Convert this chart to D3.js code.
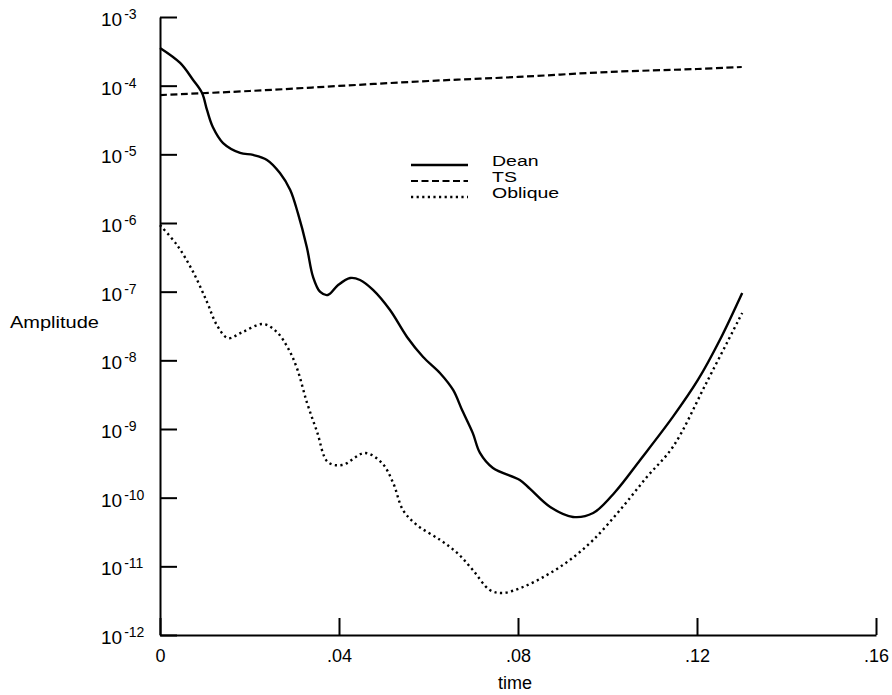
<!DOCTYPE html>
<html>
<head>
<meta charset="utf-8">
<title>amplitude</title>
<script src="https://cdn.jsdelivr.net/npm/d3@7"></script>
<style>
body{margin:0;background:#fff;}
text{font-family:"Liberation Sans",Arial,Helvetica,sans-serif;fill:#000;}
.axis path,.axis line{stroke:#000;stroke-width:2;}
.curve{fill:none;stroke:#000;}
</style>
</head>
<body>
<script>
// values
var deanT = [0,.0045,.0074,.0094,.0105,.0118,.0141,.0179,.0208,.0239,.0268,.0291,.0308,.0328,.0342,.0358,.0375,.0398,.0425,.0447,.0476,.0514,.0552,.0588,.0626,.0655,.0675,.0699,.0715,.0744,.0804,.0827,.0872,.0923,.0968,.1017,.1073,.1146,.1202,.1251,.1301];
var deanA = [3.54e-4,2.14e-4,1.21e-4,7.8e-5,4.43e-5,2.5e-5,1.46e-5,1.05e-5,9.8e-6,8.3e-6,5.35e-6,3.03e-6,1.4e-6,4.48e-7,1.64e-7,9.9e-8,8.95e-8,1.25e-7,1.58e-7,1.48e-7,1.06e-7,5.4e-8,2.19e-8,1.12e-8,6.5e-9,3.7e-9,1.89e-9,8.7e-10,4.48e-10,2.7e-10,1.81e-10,1.34e-10,7.3e-11,5.24e-11,5.98e-11,1.21e-10,3.54e-10,1.5e-9,5.18e-9,1.98e-8,9.6e-8];

var tsT = [0,.02,.04,.06,.08,.10,.12,.13];
var tsA = [7.3e-5,8.36e-5,9.9e-5,1.17e-4,1.34e-4,1.58e-4,1.75e-4,1.87e-4];

var oblT = [0,.0038,.0074,.0105,.0127,.0152,.0185,.0230,.0261,.0286,.0306,.0328,.0351,.0375,.0407,.0458,.0496,.0521,.0543,.0574,.0626,.0664,.0699,.0737,.0766,.0811,.0865,.0916,.0968,.1028,.1088,.1146,.1222,.1301];
var oblA = [9.3e-7,4.79e-7,1.94e-7,7.08e-8,3.27e-8,2.11e-8,2.59e-8,3.38e-8,2.59e-8,1.51e-8,7.7e-9,2.47e-9,9.1e-10,3.31e-10,2.99e-10,4.48e-10,3.2e-10,1.64e-10,6.6e-11,4.0e-11,2.42e-11,1.57e-11,8.85e-12,4.53e-12,4.09e-12,5.0e-12,7.5e-12,1.24e-11,2.42e-11,6.6e-11,2.0e-10,5.47e-10,4.84e-9,4.9e-8];

var xTicks = [0,.04,.08,.12,.16];
var xLabels = ["0",".04",".08",".12",".16"];
var yExps = [-3,-4,-5,-6,-7,-8,-9,-10,-11,-12];

var seriesNames = ["Dean","TS","Oblique"];

var width = 892, height = 695;
var svg = d3.select("body").append("svg")
	.attr("width",width)
	.attr("height",height);

var x = d3.scaleLinear().domain([0,.16]).range([160,876]);
var y = d3.scaleLog().domain([1e-12,1e-3]).range([635,17]);

// axes, ticks point inward
svg.append("g")
	.attr("class","axis")
	.attr("transform","translate(0,635)")
	.call(d3.axisBottom(x).tickValues(xTicks).tickSizeInner(-17).tickSizeOuter(0).tickPadding(14)
		.tickFormat(function(d,i){ return xLabels[i]; }))
	.selectAll("text").style("font-size","18px");

svg.append("g")
	.attr("class","axis")
	.attr("transform","translate(160,0)")
	.call(d3.axisLeft(y).tickValues(yExps.map(function(e){return Math.pow(10,e);}))
		.tickSizeInner(-17).tickSizeOuter(0).tickFormat(""));

svg.selectAll(".axis text").attr("font-family",null);

// y tick labels 10^n
var lab = svg.append("g").selectAll("text")
	.data(yExps)
	.enter()
	.append("text")
	.attr("x",101)
	.attr("y",function(d){ return y(Math.pow(10,d))+9; })
	.style("font-size","19px");
lab.append("tspan").text("10");
lab.append("tspan")
	.attr("dx",2)
	.attr("dy",-7)
	.style("font-size","14px")
	.text(function(d){ return "-"+(-d); });

svg.append("text")
	.attr("x",515).attr("y",689)
	.attr("text-anchor","middle")
	.style("font-size","18px")
	.text("time");

svg.append("text")
	.attr("transform","translate(10,328) scale(1.25,1)")
	.style("font-size","16px")
	.text("Amplitude");

// curves
var line = d3.line()
	.x(function(d){ return x(d[0]); })
	.y(function(d){ return y(d[1]); })
	.curve(d3.curveCatmullRom.alpha(0.5));

function pairs(t,a){ return t.map(function(v,i){ return [v,a[i]]; }); }

var styles = [
	{w:2.4,dash:null},
	{w:2.2,dash:"7,3.5"},
	{w:2.4,dash:"2.2,3.4"}
];
var data = [pairs(deanT,deanA),pairs(tsT,tsA),pairs(oblT,oblA)];

svg.selectAll("path.curve")
	.data(data)
	.enter()
	.append("path")
	.attr("class","curve")
	.attr("d",line)
	.style("stroke-width",function(d,i){ return styles[i].w; })
	.style("stroke-dasharray",function(d,i){ return styles[i].dash; });

// legend
var leg = svg.append("g").selectAll("g")
	.data(seriesNames)
	.enter()
	.append("g")
	.attr("transform",function(d,i){ return "translate(411,"+(165+i*16)+")"; });
leg.append("line")
	.attr("x1",0).attr("x2",57)
	.attr("stroke","#000")
	.attr("stroke-width",function(d,i){ return styles[i].w; })
	.attr("stroke-dasharray",function(d,i){ return styles[i].dash; });
leg.append("text")
	.attr("transform","translate(81,1) scale(1.3,1)")
	.style("font-size","15px")
	.text(function(d){ return d; });
</script>
</body>
</html>
